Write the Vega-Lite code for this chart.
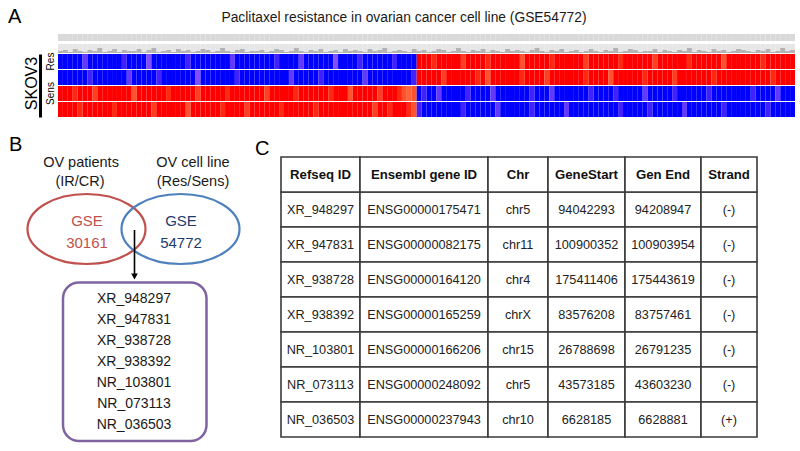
{
"$schema": "https://vega.github.io/schema/vega-lite/v6.json",
"width": 800, "height": 451,
"autosize": {"type": "fit", "contains": "padding"},
"padding": 0,
"background": "white",
"config": {"view": {"stroke": null}, "text": {"font": "Liberation Sans"}},
"datasets": {
"genes": [
{"i":0,"h":2,"Res1":-9,"Res2":-10,"Sens1":9,"Sens2":10},
{"i":1,"h":3,"Res1":-10,"Res2":-9,"Sens1":9,"Sens2":9},
{"i":2,"h":1,"Res1":-9,"Res2":-9,"Sens1":10,"Sens2":9},
{"i":3,"h":4,"Res1":-9,"Res2":-10,"Sens1":8,"Sens2":10},
{"i":4,"h":2,"Res1":-10,"Res2":-9,"Sens1":9,"Sens2":8},
{"i":5,"h":1,"Res1":-7,"Res2":-9,"Sens1":10,"Sens2":9},
{"i":6,"h":3,"Res1":-9,"Res2":-8,"Sens1":9,"Sens2":10},
{"i":7,"h":2,"Res1":-10,"Res2":-9,"Sens1":7,"Sens2":9},
{"i":8,"h":5,"Res1":-9,"Res2":-10,"Sens1":10,"Sens2":9},
{"i":9,"h":1,"Res1":-9,"Res2":-9,"Sens1":9,"Sens2":10},
{"i":10,"h":2,"Res1":-10,"Res2":-9,"Sens1":9,"Sens2":9},
{"i":11,"h":4,"Res1":-9,"Res2":-10,"Sens1":10,"Sens2":8},
{"i":12,"h":1,"Res1":-9,"Res2":-9,"Sens1":9,"Sens2":10},
{"i":13,"h":3,"Res1":-8,"Res2":-9,"Sens1":10,"Sens2":9},
{"i":14,"h":2,"Res1":-10,"Res2":-7,"Sens1":9,"Sens2":9},
{"i":15,"h":2,"Res1":-9,"Res2":-10,"Sens1":6,"Sens2":10},
{"i":16,"h":4,"Res1":-10,"Res2":-9,"Sens1":9,"Sens2":9},
{"i":17,"h":1,"Res1":-9,"Res2":-9,"Sens1":10,"Sens2":9},
{"i":18,"h":3,"Res1":-6,"Res2":-10,"Sens1":9,"Sens2":10},
{"i":19,"h":5,"Res1":-9,"Res2":-9,"Sens1":9,"Sens2":7},
{"i":20,"h":1,"Res1":-9,"Res2":-8,"Sens1":10,"Sens2":9},
{"i":21,"h":2,"Res1":-10,"Res2":-9,"Sens1":9,"Sens2":10},
{"i":22,"h":3,"Res1":-9,"Res2":-10,"Sens1":8,"Sens2":9},
{"i":23,"h":1,"Res1":-9,"Res2":-9,"Sens1":9,"Sens2":9},
{"i":24,"h":4,"Res1":-10,"Res2":-9,"Sens1":10,"Sens2":10},
{"i":25,"h":2,"Res1":-9,"Res2":-10,"Sens1":9,"Sens2":9},
{"i":26,"h":3,"Res1":-8,"Res2":-9,"Sens1":9,"Sens2":6},
{"i":27,"h":1,"Res1":-10,"Res2":-9,"Sens1":10,"Sens2":9},
{"i":28,"h":2,"Res1":-9,"Res2":-6,"Sens1":7,"Sens2":10},
{"i":29,"h":4,"Res1":-9,"Res2":-10,"Sens1":9,"Sens2":9},
{"i":30,"h":3,"Res1":-10,"Res2":-9,"Sens1":9,"Sens2":10},
{"i":31,"h":1,"Res1":-9,"Res2":-9,"Sens1":10,"Sens2":9},
{"i":32,"h":2,"Res1":-9,"Res2":-10,"Sens1":9,"Sens2":9},
{"i":33,"h":5,"Res1":-10,"Res2":-9,"Sens1":9,"Sens2":8},
{"i":34,"h":2,"Res1":-9,"Res2":-10,"Sens1":8,"Sens2":10},
{"i":35,"h":1,"Res1":-7,"Res2":-9,"Sens1":10,"Sens2":9},
{"i":36,"h":3,"Res1":-9,"Res2":-8,"Sens1":9,"Sens2":10},
{"i":37,"h":4,"Res1":-10,"Res2":-9,"Sens1":9,"Sens2":9},
{"i":38,"h":1,"Res1":-9,"Res2":-9,"Sens1":10,"Sens2":7},
{"i":39,"h":2,"Res1":-10,"Res2":-10,"Sens1":9,"Sens2":9},
{"i":40,"h":2,"Res1":-9,"Res2":-9,"Sens1":10,"Sens2":9},
{"i":41,"h":3,"Res1":-9,"Res2":-10,"Sens1":9,"Sens2":10},
{"i":42,"h":1,"Res1":-10,"Res2":-9,"Sens1":7,"Sens2":9},
{"i":43,"h":2,"Res1":-9,"Res2":-9,"Sens1":10,"Sens2":10},
{"i":44,"h":4,"Res1":-8,"Res2":-10,"Sens1":9,"Sens2":9},
{"i":45,"h":3,"Res1":-9,"Res2":-9,"Sens1":9,"Sens2":8},
{"i":46,"h":1,"Res1":-10,"Res2":-9,"Sens1":10,"Sens2":9},
{"i":47,"h":2,"Res1":-9,"Res2":-7,"Sens1":9,"Sens2":9},
{"i":48,"h":5,"Res1":-9,"Res2":-10,"Sens1":8,"Sens2":10},
{"i":49,"h":2,"Res1":-7,"Res2":-9,"Sens1":9,"Sens2":9},
{"i":50,"h":1,"Res1":-9,"Res2":-10,"Sens1":9,"Sens2":10},
{"i":51,"h":3,"Res1":-10,"Res2":-9,"Sens1":10,"Sens2":9},
{"i":52,"h":2,"Res1":-9,"Res2":-9,"Sens1":9,"Sens2":8},
{"i":53,"h":4,"Res1":-10,"Res2":-8,"Sens1":9,"Sens2":9},
{"i":54,"h":1,"Res1":-9,"Res2":-9,"Sens1":10,"Sens2":10},
{"i":55,"h":2,"Res1":-9,"Res2":-10,"Sens1":8,"Sens2":9},
{"i":56,"h":3,"Res1":-6,"Res2":-9,"Sens1":9,"Sens2":9},
{"i":57,"h":1,"Res1":-9,"Res2":-10,"Sens1":10,"Sens2":10},
{"i":58,"h":4,"Res1":-10,"Res2":-9,"Sens1":9,"Sens2":9},
{"i":59,"h":2,"Res1":-9,"Res2":-9,"Sens1":6,"Sens2":10},
{"i":60,"h":3,"Res1":-9,"Res2":-9,"Sens1":10,"Sens2":9},
{"i":61,"h":2,"Res1":-8,"Res2":-10,"Sens1":9,"Sens2":9},
{"i":62,"h":1,"Res1":-10,"Res2":-7,"Sens1":9,"Sens2":10},
{"i":63,"h":4,"Res1":-9,"Res2":-9,"Sens1":10,"Sens2":9},
{"i":64,"h":2,"Res1":-9,"Res2":-9,"Sens1":9,"Sens2":7},
{"i":65,"h":3,"Res1":-10,"Res2":-10,"Sens1":7,"Sens2":10},
{"i":66,"h":5,"Res1":-9,"Res2":-9,"Sens1":10,"Sens2":9},
{"i":67,"h":1,"Res1":-9,"Res2":-9,"Sens1":9,"Sens2":8},
{"i":68,"h":2,"Res1":-8,"Res2":-10,"Sens1":9,"Sens2":10},
{"i":69,"h":3,"Res1":-9,"Res2":-9,"Sens1":8,"Sens2":9},
{"i":70,"h":2,"Res1":-10,"Res2":-9,"Sens1":6,"Sens2":9},
{"i":71,"h":1,"Res1":-9,"Res2":-10,"Sens1":5,"Sens2":8},
{"i":72,"h":4,"Res1":-9,"Res2":-8,"Sens1":6,"Sens2":6},
{"i":73,"h":2,"Res1":9,"Res2":10,"Sens1":-9,"Sens2":-8},
{"i":74,"h":3,"Res1":10,"Res2":9,"Sens1":-8,"Sens2":-10},
{"i":75,"h":1,"Res1":9,"Res2":9,"Sens1":-10,"Sens2":-9},
{"i":76,"h":2,"Res1":8,"Res2":10,"Sens1":-9,"Sens2":-9},
{"i":77,"h":4,"Res1":9,"Res2":9,"Sens1":-7,"Sens2":-10},
{"i":78,"h":3,"Res1":10,"Res2":7,"Sens1":-9,"Sens2":-9},
{"i":79,"h":1,"Res1":9,"Res2":9,"Sens1":-10,"Sens2":-9},
{"i":80,"h":2,"Res1":9,"Res2":10,"Sens1":-9,"Sens2":-10},
{"i":81,"h":5,"Res1":9,"Res2":9,"Sens1":-9,"Sens2":-9},
{"i":82,"h":2,"Res1":7,"Res2":9,"Sens1":-10,"Sens2":-8},
{"i":83,"h":1,"Res1":10,"Res2":10,"Sens1":-8,"Sens2":-9},
{"i":84,"h":3,"Res1":9,"Res2":9,"Sens1":-9,"Sens2":-10},
{"i":85,"h":2,"Res1":9,"Res2":8,"Sens1":-10,"Sens2":-9},
{"i":86,"h":4,"Res1":10,"Res2":9,"Sens1":-9,"Sens2":-9},
{"i":87,"h":1,"Res1":8,"Res2":6,"Sens1":-9,"Sens2":-10},
{"i":88,"h":3,"Res1":9,"Res2":10,"Sens1":-7,"Sens2":-9},
{"i":89,"h":2,"Res1":9,"Res2":9,"Sens1":-10,"Sens2":-7},
{"i":90,"h":1,"Res1":10,"Res2":9,"Sens1":-9,"Sens2":-9},
{"i":91,"h":4,"Res1":9,"Res2":10,"Sens1":-10,"Sens2":-10},
{"i":92,"h":2,"Res1":9,"Res2":9,"Sens1":-9,"Sens2":-9},
{"i":93,"h":3,"Res1":10,"Res2":9,"Sens1":-9,"Sens2":-10},
{"i":94,"h":2,"Res1":6,"Res2":8,"Sens1":-10,"Sens2":-9},
{"i":95,"h":1,"Res1":9,"Res2":10,"Sens1":-9,"Sens2":-9},
{"i":96,"h":3,"Res1":9,"Res2":9,"Sens1":-8,"Sens2":-8},
{"i":97,"h":5,"Res1":10,"Res2":9,"Sens1":-9,"Sens2":-10},
{"i":98,"h":2,"Res1":9,"Res2":10,"Sens1":-10,"Sens2":-9},
{"i":99,"h":1,"Res1":9,"Res2":7,"Sens1":-9,"Sens2":-9},
{"i":100,"h":3,"Res1":8,"Res2":9,"Sens1":-7,"Sens2":-10},
{"i":101,"h":2,"Res1":9,"Res2":9,"Sens1":-10,"Sens2":-9},
{"i":102,"h":4,"Res1":10,"Res2":10,"Sens1":-9,"Sens2":-9},
{"i":103,"h":1,"Res1":9,"Res2":9,"Sens1":-9,"Sens2":-7},
{"i":104,"h":2,"Res1":9,"Res2":10,"Sens1":-10,"Sens2":-9},
{"i":105,"h":3,"Res1":10,"Res2":9,"Sens1":-9,"Sens2":-10},
{"i":106,"h":1,"Res1":9,"Res2":9,"Sens1":-9,"Sens2":-9},
{"i":107,"h":2,"Res1":7,"Res2":8,"Sens1":-10,"Sens2":-9},
{"i":108,"h":4,"Res1":9,"Res2":10,"Sens1":-8,"Sens2":-10},
{"i":109,"h":2,"Res1":10,"Res2":9,"Sens1":-9,"Sens2":-9},
{"i":110,"h":1,"Res1":9,"Res2":10,"Sens1":-9,"Sens2":-9},
{"i":111,"h":3,"Res1":9,"Res2":9,"Sens1":-10,"Sens2":-9},
{"i":112,"h":2,"Res1":10,"Res2":6,"Sens1":-9,"Sens2":-10},
{"i":113,"h":5,"Res1":9,"Res2":9,"Sens1":-8,"Sens2":-9},
{"i":114,"h":1,"Res1":8,"Res2":10,"Sens1":-10,"Sens2":-8},
{"i":115,"h":2,"Res1":9,"Res2":9,"Sens1":-9,"Sens2":-10},
{"i":116,"h":4,"Res1":10,"Res2":9,"Sens1":-10,"Sens2":-9},
{"i":117,"h":3,"Res1":9,"Res2":10,"Sens1":-9,"Sens2":-10},
{"i":118,"h":1,"Res1":9,"Res2":9,"Sens1":-9,"Sens2":-9},
{"i":119,"h":2,"Res1":10,"Res2":8,"Sens1":-7,"Sens2":-9},
{"i":120,"h":2,"Res1":9,"Res2":9,"Sens1":-10,"Sens2":-8},
{"i":121,"h":4,"Res1":7,"Res2":10,"Sens1":-9,"Sens2":-10},
{"i":122,"h":1,"Res1":9,"Res2":9,"Sens1":-9,"Sens2":-9},
{"i":123,"h":3,"Res1":10,"Res2":9,"Sens1":-10,"Sens2":-9},
{"i":124,"h":2,"Res1":9,"Res2":10,"Sens1":-9,"Sens2":-10},
{"i":125,"h":1,"Res1":9,"Res2":7,"Sens1":-8,"Sens2":-9},
{"i":126,"h":3,"Res1":10,"Res2":9,"Sens1":-9,"Sens2":-9},
{"i":127,"h":2,"Res1":9,"Res2":10,"Sens1":-10,"Sens2":-7},
{"i":128,"h":5,"Res1":8,"Res2":9,"Sens1":-9,"Sens2":-10},
{"i":129,"h":1,"Res1":9,"Res2":9,"Sens1":-9,"Sens2":-9},
{"i":130,"h":3,"Res1":10,"Res2":9,"Sens1":-9,"Sens2":-10},
{"i":131,"h":2,"Res1":9,"Res2":9,"Sens1":-10,"Sens2":-9},
{"i":132,"h":1,"Res1":9,"Res2":10,"Sens1":-8,"Sens2":-9},
{"i":133,"h":4,"Res1":10,"Res2":8,"Sens1":-9,"Sens2":-10},
{"i":134,"h":2,"Res1":9,"Res2":9,"Sens1":-10,"Sens2":-9},
{"i":135,"h":3,"Res1":6,"Res2":10,"Sens1":-9,"Sens2":-8},
{"i":136,"h":1,"Res1":9,"Res2":9,"Sens1":-9,"Sens2":-10},
{"i":137,"h":2,"Res1":10,"Res2":9,"Sens1":-10,"Sens2":-9},
{"i":138,"h":4,"Res1":9,"Res2":10,"Sens1":-9,"Sens2":-9},
{"i":139,"h":3,"Res1":9,"Res2":9,"Sens1":-10,"Sens2":-10},
{"i":140,"h":2,"Res1":9,"Res2":10,"Sens1":-9,"Sens2":-9},
{"i":141,"h":1,"Res1":10,"Res2":9,"Sens1":-8,"Sens2":-10},
{"i":142,"h":3,"Res1":9,"Res2":9,"Sens1":-10,"Sens2":-9},
{"i":143,"h":2,"Res1":8,"Res2":10,"Sens1":-9,"Sens2":-9},
{"i":144,"h":4,"Res1":9,"Res2":9,"Sens1":-9,"Sens2":-8},
{"i":145,"h":1,"Res1":10,"Res2":8,"Sens1":-10,"Sens2":-10},
{"i":146,"h":2,"Res1":9,"Res2":9,"Sens1":-7,"Sens2":-9},
{"i":147,"h":5,"Res1":9,"Res2":10,"Sens1":-9,"Sens2":-10},
{"i":148,"h":2,"Res1":10,"Res2":9,"Sens1":-10,"Sens2":-9},
{"i":149,"h":3,"Res1":9,"Res2":10,"Sens1":-9,"Sens2":-9}
],
"cols": [
{"col":"Refseq ID","x0":28.1,"x1":36.0,"xm":32.05},
{"col":"Ensembl gene ID","x0":36.0,"x1":48.8,"xm":42.4},
{"col":"Chr","x0":48.8,"x1":54.8,"xm":51.8},
{"col":"GeneStart","x0":54.8,"x1":62.5,"xm":58.65},
{"col":"Gen End","x0":62.5,"x1":70.1,"xm":66.3},
{"col":"Strand","x0":70.1,"x1":75.7,"xm":72.9}
],
"table": [
{"row":1,"Refseq ID":"XR_948297","Ensembl gene ID":"ENSG00000175471","Chr":"chr5","GeneStart":"94042293","Gen End":"94208947","Strand":"(-)"},
{"row":2,"Refseq ID":"XR_947831","Ensembl gene ID":"ENSG00000082175","Chr":"chr11","GeneStart":"100900352","Gen End":"100903954","Strand":"(-)"},
{"row":3,"Refseq ID":"XR_938728","Ensembl gene ID":"ENSG00000164120","Chr":"chr4","GeneStart":"175411406","Gen End":"175443619","Strand":"(-)"},
{"row":4,"Refseq ID":"XR_938392","Ensembl gene ID":"ENSG00000165259","Chr":"chrX","GeneStart":"83576208","Gen End":"83757461","Strand":"(-)"},
{"row":5,"Refseq ID":"NR_103801","Ensembl gene ID":"ENSG00000166206","Chr":"chr15","GeneStart":"26788698","Gen End":"26791235","Strand":"(-)"},
{"row":6,"Refseq ID":"NR_073113","Ensembl gene ID":"ENSG00000248092","Chr":"chr5","GeneStart":"43573185","Gen End":"43603230","Strand":"(-)"},
{"row":7,"Refseq ID":"NR_036503","Ensembl gene ID":"ENSG00000237943","Chr":"chr10","GeneStart":"6628185","Gen End":"6628881","Strand":"(+)"}
]
},
"layer": [
{
"data": {"name": "genes"},
"layer": [
{"mark": {"type": "rect", "fill": "#d9d9d9"},
 "encoding": {
  "x": {"field": "i", "type": "ordinal", "scale": {"range": [58, 795], "paddingInner": 0, "paddingOuter": 0}, "axis": null},
  "y": {"datum": 12, "type": "quantitative", "scale": {"domain": [0, 19], "range": [53, 34], "nice": false, "zero": false}, "axis": null}, "y2": {"datum": 19}}},
{"mark": {"type": "rect", "fill": "#e6e6e6"},
 "encoding": {"x": {"field": "i", "type": "ordinal"}, "y": {"datum": 0, "type": "quantitative"}, "y2": {"datum": 9}}},
{"mark": {"type": "rect", "fill": "#b3b3b3"},
 "encoding": {"x": {"field": "i", "type": "ordinal"}, "y": {"field": "h", "type": "quantitative"}, "y2": {"datum": 0}}}
]
},
{
"data": {"name": "genes"},
"transform": [{"fold": ["Res1", "Res2", "Sens1", "Sens2"], "as": ["sample", "v"]}],
"mark": {"type": "rect"},
"encoding": {
"x": {"field": "i", "type": "ordinal", "scale": {"range": [58, 795], "paddingInner": 0, "paddingOuter": 0}, "axis": null},
"y": {"field": "sample", "type": "nominal", "scale": {"domain": ["Res1", "Res2", "Sens1", "Sens2"], "range": [54, 117], "paddingInner": 0.06, "paddingOuter": 0},
  "axis": {"orient": "left", "offset": -40, "domain": true, "domainColor": "#000000", "domainWidth": 3, "ticks": false, "bandPosition": 1,
   "labelExpr": "datum.value == 'Res1' ? 'Res' : datum.value == 'Sens1' ? 'Sens' : ''",
   "labelAngle": -90, "labelAlign": "center", "labelBaseline": "top", "labelPadding": -5, "labelFontSize": 10, "labelFont": "Liberation Sans", "labelColor": "#000000", "labelOverlap": false, "labelBound": false,
   "title": "SKOV3", "titleFont": "Liberation Sans", "titleFontSize": 16, "titleFontWeight": "normal", "titleColor": "#000000", "titleAngle": -90, "titleX": -9, "titleY": 83, "titleAlign": "center", "titleBaseline": "middle"}},
"color": {"field": "v", "type": "quantitative", "scale": {"domain": [-9, 0, 9], "range": ["#0000ff", "#ffffff", "#ff0000"], "clamp": true}, "legend": null}
}
},
{
"layer": [
{"data": {"values": [{"label": "A", "x": 0.8, "y": 2.3}, {"label": "B", "x": 0.9, "y": 15.1}, {"label": "C", "x": 25.5, "y": 15.5}]},
 "mark": {"type": "text", "fontSize": 20, "align": "left", "baseline": "alphabetic", "color": "#000000"},
 "encoding": {"x": {"field": "x", "type": "quantitative", "scale": {"domain": [0, 80], "range": [0, 800], "nice": false, "zero": false}, "axis": null},
  "y": {"field": "y", "type": "quantitative", "scale": {"domain": [0, 45.1], "range": [0, 451], "nice": false, "zero": false}, "axis": null},
  "text": {"field": "label", "type": "nominal"}}},
{"data": {"values": [{"label": "Paclitaxel resistance in ovarian cancer cell line (GSE54772)", "x": 40.4, "y": 1.75}]},
 "mark": {"type": "text", "fontSize": 13.8, "align": "center", "baseline": "middle", "color": "#1a1a1a"},
 "encoding": {"x": {"field": "x", "type": "quantitative"}, "y": {"field": "y", "type": "quantitative"}, "text": {"field": "label", "type": "nominal"}}},
{"data": {"values": [{"label": "OV patients", "x": 8.1, "y": 16.3}, {"label": "(IR/CR)", "x": 8.0, "y": 18.2}, {"label": "OV cell line", "x": 19.3, "y": 16.3}, {"label": "(Res/Sens)", "x": 19.3, "y": 18.2}]},
 "mark": {"type": "text", "fontSize": 14.5, "align": "center", "baseline": "middle", "color": "#1a1a1a"},
 "encoding": {"x": {"field": "x", "type": "quantitative"}, "y": {"field": "y", "type": "quantitative"}, "text": {"field": "label", "type": "nominal"}}},
{"data": {"values": [{"set": "GSE30161", "x": 8.65, "y": 22.9}, {"set": "GSE54772", "x": 18.05, "y": 22.9}]},
 "mark": {"type": "point", "filled": false, "strokeWidth": 2.2, "opacity": 1, "shape": "M-1,0A1,0.593,0,1,0,1,0A1,0.593,0,1,0,-1,0Z", "size": 13924},
 "encoding": {"x": {"field": "x", "type": "quantitative"}, "y": {"field": "y", "type": "quantitative"},
  "stroke": {"field": "set", "type": "nominal", "scale": {"domain": ["GSE30161", "GSE54772"], "range": ["#c0504d", "#4f81bd"]}, "legend": null}}},
{"data": {"values": [{"set": "GSE30161", "label": "GSE", "x": 8.7, "y": 22.1}, {"set": "GSE30161", "label": "30161", "x": 8.7, "y": 24.3}, {"set": "GSE54772", "label": "GSE", "x": 18.1, "y": 22.1}, {"set": "GSE54772", "label": "54772", "x": 18.1, "y": 24.3}]},
 "mark": {"type": "text", "fontSize": 15, "align": "center", "baseline": "middle"},
 "encoding": {"x": {"field": "x", "type": "quantitative"}, "y": {"field": "y", "type": "quantitative"}, "text": {"field": "label", "type": "nominal"},
  "fill": {"field": "set", "type": "nominal", "scale": {"domain": ["GSE30161", "GSE54772"], "range": ["#c0504d", "#1f3b6e"]}, "legend": null}}},
{"data": {"values": [{"x": 13.45, "y": 23.0, "y2": 27.4}]},
 "mark": {"type": "rule", "strokeWidth": 1.6, "color": "#000000"},
 "encoding": {"x": {"field": "x", "type": "quantitative"}, "y": {"field": "y", "type": "quantitative"}, "y2": {"field": "y2"}}},
{"data": {"values": [{"x": 13.45, "y": 27.65}]},
 "mark": {"type": "point", "shape": "triangle-down", "filled": true, "size": 45, "color": "#000000", "opacity": 1},
 "encoding": {"x": {"field": "x", "type": "quantitative"}, "y": {"field": "y", "type": "quantitative"}}},
{"data": {"values": [{"x": 6.3, "x2": 20.65, "y": 28.25, "y2": 44.1}]},
 "mark": {"type": "rect", "fill": "transparent", "stroke": "#8064a2", "strokeWidth": 2.5, "cornerRadius": 16},
 "encoding": {"x": {"field": "x", "type": "quantitative"}, "x2": {"field": "x2"}, "y": {"field": "y", "type": "quantitative"}, "y2": {"field": "y2"}}},
{"data": {"values": [{"label": "XR_948297", "x": 13.4, "y": 29.9}, {"label": "XR_947831", "x": 13.4, "y": 32.0}, {"label": "XR_938728", "x": 13.4, "y": 34.1}, {"label": "XR_938392", "x": 13.4, "y": 36.2}, {"label": "NR_103801", "x": 13.4, "y": 38.3}, {"label": "NR_073113", "x": 13.4, "y": 40.4}, {"label": "NR_036503", "x": 13.4, "y": 42.5}]},
 "mark": {"type": "text", "fontSize": 14, "align": "center", "baseline": "middle", "color": "#1a1a1a"},
 "encoding": {"x": {"field": "x", "type": "quantitative"}, "y": {"field": "y", "type": "quantitative"}, "text": {"field": "label", "type": "nominal"}}}
]
},
{
"layer": [
{"data": {"name": "table"},
 "transform": [{"fold": ["Refseq ID", "Ensembl gene ID", "Chr", "GeneStart", "Gen End", "Strand"], "as": ["col", "val"]},
  {"lookup": "col", "from": {"data": {"name": "cols"}, "key": "col", "fields": ["x0", "x1", "xm"]}}],
 "mark": {"type": "rect", "fill": "white", "stroke": "#3a3a3a", "strokeWidth": 1.6},
 "encoding": {"x": {"field": "x0", "type": "quantitative", "scale": {"domain": [0, 80], "range": [0, 800], "nice": false, "zero": false}, "axis": null}, "x2": {"field": "x1"},
  "y": {"field": "row", "type": "ordinal", "scale": {"domain": [0, 1, 2, 3, 4, 5, 6, 7], "range": [157, 437], "paddingInner": 0, "paddingOuter": 0}, "axis": null}}},
{"data": {"name": "cols"},
 "mark": {"type": "rect", "fill": "white", "stroke": "#3a3a3a", "strokeWidth": 1.6},
 "encoding": {"x": {"field": "x0", "type": "quantitative"}, "x2": {"field": "x1"}, "y": {"datum": 0, "type": "ordinal"}}},
{"data": {"name": "table"},
 "transform": [{"fold": ["Refseq ID", "Ensembl gene ID", "Chr", "GeneStart", "Gen End", "Strand"], "as": ["col", "val"]},
  {"lookup": "col", "from": {"data": {"name": "cols"}, "key": "col", "fields": ["x0", "x1", "xm"]}}],
 "mark": {"type": "text", "fontSize": 12.7, "align": "center", "baseline": "middle", "color": "#222222"},
 "encoding": {"x": {"field": "xm", "type": "quantitative"}, "y": {"field": "row", "type": "ordinal", "bandPosition": 0.5}, "text": {"field": "val", "type": "nominal"}}},
{"data": {"name": "cols"},
 "mark": {"type": "text", "fontSize": 13.2, "fontWeight": "bold", "align": "center", "baseline": "middle", "color": "#111111"},
 "encoding": {"x": {"field": "xm", "type": "quantitative"}, "y": {"datum": 0, "type": "ordinal", "bandPosition": 0.5}, "text": {"field": "col", "type": "nominal"}}}
]
}
],
"resolve": {"scale": {"x": "independent", "y": "independent", "color": "independent", "fill": "independent", "stroke": "independent"}}
}
